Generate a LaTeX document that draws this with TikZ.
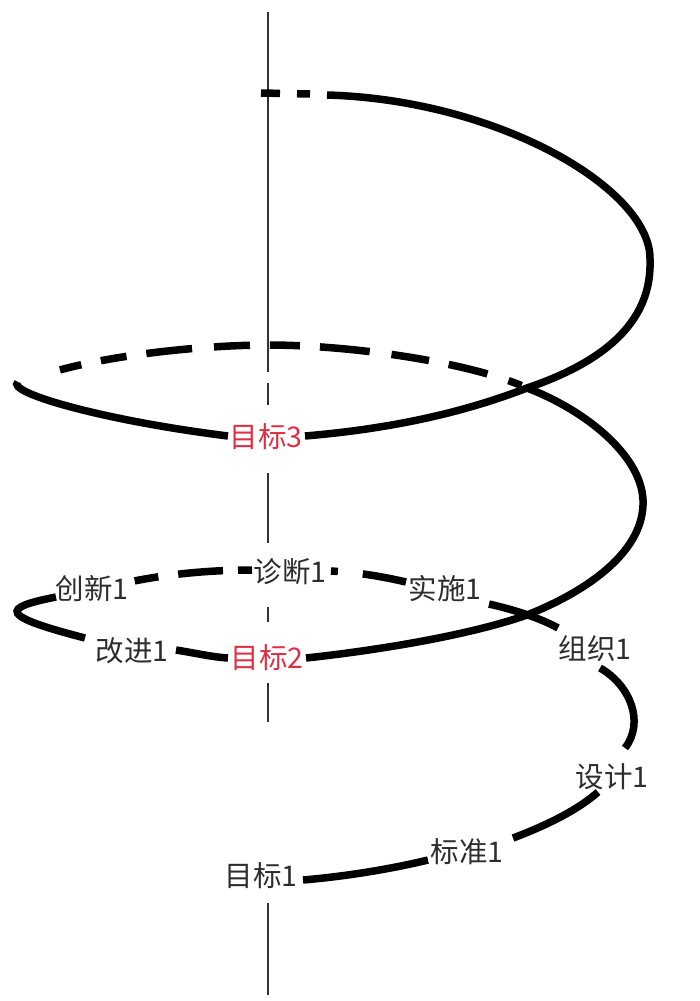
\documentclass[tikz,border=0pt]{standalone}
\usepackage{fontspec}
\setmainfont{Noto Sans CJK SC}
\definecolor{lblgray}{RGB}{45,45,45}
\definecolor{lblred}{RGB}{222,48,68}
\definecolor{axisgray}{RGB}{50,50,50}
\begin{document}
\begin{tikzpicture}[x=1pt,y=-1pt,
  spiral/.style={line width=7.5pt,black,line cap=butt},
  hidden/.style={spiral,dash pattern=on 38pt off 20pt},
  axisline/.style={line width=1.5pt,axisgray},
  lbl/.style={font=\fontsize{28.5}{28.5}\selectfont,text=lblgray,inner sep=0pt},
  redlbl/.style={lbl,text=lblred}]
\useasboundingbox (0,0) rectangle (699,1001);

% axis
\coordinate (a0) at (268,12);   \coordinate (a1) at (268,372);
\coordinate (a2) at (268,383);  \coordinate (a3) at (268,405);
\coordinate (a4) at (268,473);  \coordinate (a5) at (268,543);
\coordinate (a6) at (268,607);  \coordinate (a7) at (268,622);
\coordinate (a8) at (268,683);  \coordinate (a9) at (268,722);
\coordinate (a10) at (268,903); \coordinate (a11) at (268,995);
\draw[axisline] (a0)--(a1) (a2)--(a3) (a4)--(a5) (a6)--(a7) (a8)--(a9) (a10)--(a11);

% labels
\node[lbl] (mb1) at (261,876) {目标1};
\node[lbl] (bz1) at (467,852) {标准1};
\node[lbl] (sj1) at (612,777) {设计1};
\node[lbl] (zz1) at (595,649) {组织1};
\node[lbl] (ss1) at (445,589) {实施1};
\node[lbl] (zd1) at (290,572) {诊断1};
\node[lbl] (cx1) at (92,589) {创新1};
\node[lbl] (gj1) at (132,651) {改进1};
\node[redlbl] (mb2) at (267,658) {目标2};
\node[redlbl] (mb3) at (266,437) {目标3};

% key points of the spiral
\coordinate (p1) at (303,880);  \coordinate (p2) at (428,860);
\coordinate (p3) at (513,838);  \coordinate (p4) at (598,792);
\coordinate (p5) at (625,748);  \coordinate (p6) at (600,668);
\coordinate (p7) at (558,628);  \coordinate (p8) at (489,604);
\coordinate (p9) at (406,582);  \coordinate (p10) at (330,571);
\coordinate (p11) at (252,570); \coordinate (p12) at (134,581);
\coordinate (p13) at (56,597);  \coordinate (p14) at (85,638);
\coordinate (p15) at (176,650); \coordinate (p16) at (228,658);
\coordinate (p17) at (306,658); \coordinate (x1) at (527,615);
\coordinate (r1) at (643,500);  \coordinate (x2) at (527,388);
\coordinate (t1) at (268,345);  \coordinate (l1) at (13,388);
\coordinate (l2) at (18,382);   \coordinate (p18) at (228,436);
\coordinate (p19) at (305,436); \coordinate (r2) at (650,260);
\coordinate (p20) at (327,95);  \coordinate (p21) at (310,94);
\coordinate (p22) at (261,93);

% visible parts
\draw[spiral] (p1) .. controls (350,876) and (395,868) .. (p2);
\draw[spiral] (p3) .. controls (545,826) and (578,810) .. (p4);
\draw[spiral] (p6) .. controls (630,685) and (645,722) .. (p5);
\draw[spiral] (p8) .. controls (515,610) and (540,618) .. (p7);
\draw[spiral] (p13) .. controls (0,608) and (0,616) .. (p14);
\draw[spiral] (p15) .. controls (195,653) and (212,657) .. (p16);
\draw[spiral] (p17) .. controls (380,650) and (470,635) .. (x1)
  .. controls (590,590) and (645,550) .. (r1)
  .. controls (641,455) and (585,410) .. (x2);
\draw[spiral] (l2) .. controls (5,392) and (100,420) .. (p18);
\draw[spiral] (p19) .. controls (400,428) and (470,410) .. (x2)
  .. controls (610,360) and (652,318) .. (r2)
  .. controls (652,190) and (500,100) .. (p20);

% hidden parts
\draw[hidden,dash pattern=on 44pt off 25pt on 7pt off 20pt] (p9) .. controls (380,576) and (355,572) .. (p10);
\draw[hidden,dash pattern=on 14pt off 15pt on 45pt off 20pt on 24pt off 10pt] (p11) .. controls (210,570) and (170,574) .. (p12);
\draw[hidden,dash pattern=on 0pt off 6pt on 14pt off 22pt on 40pt off 20pt on 38pt off 22pt on 50pt off 20pt on 30pt off 20pt on 36pt off 22pt on 46pt off 20pt on 26pt off 20pt on 22pt off 50pt]
  (x2) .. controls (470,362) and (350,345) .. (t1)
  .. controls (190,345) and (60,360) .. (l1);
\draw[hidden,dash pattern=on 13pt off 17pt on 19pt off 10pt] (p21) -- (p22);
\end{tikzpicture}
\end{document}
